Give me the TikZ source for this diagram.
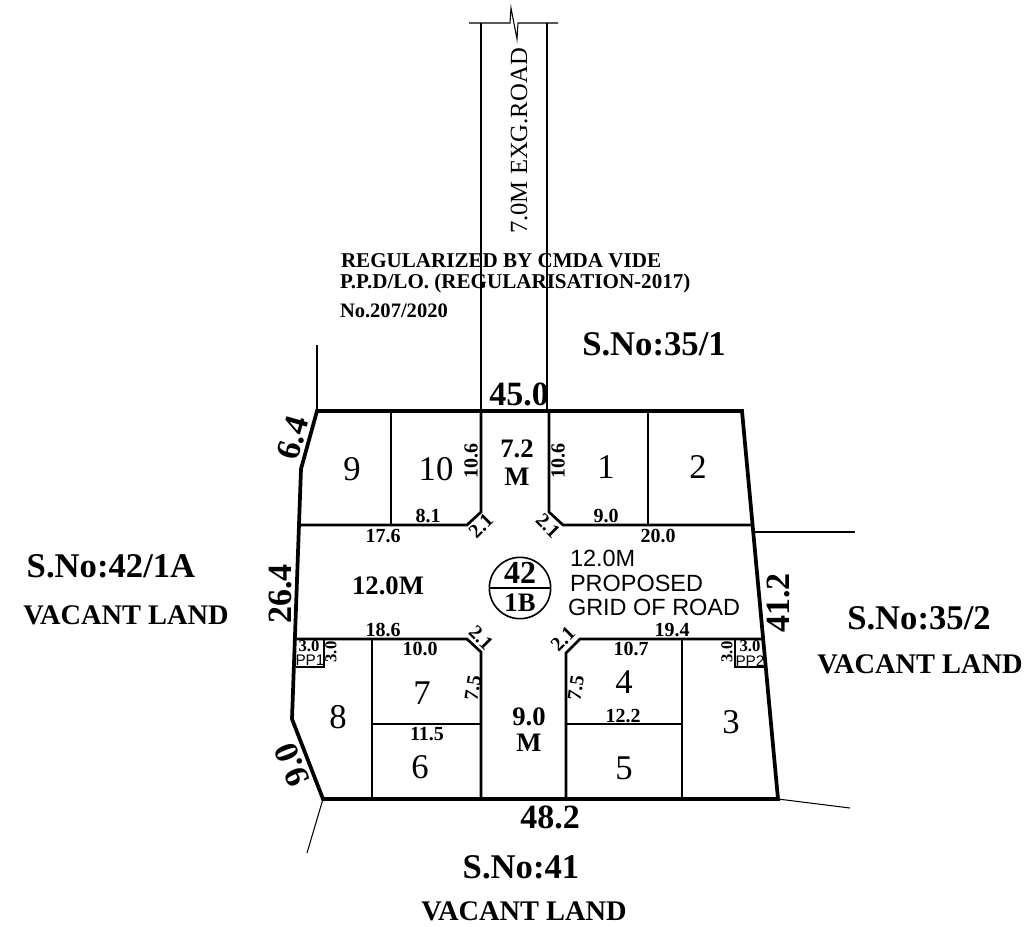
\documentclass[tikz,border=0pt]{standalone}
\usepackage{fontspec}
\setmainfont{Liberation Serif}
\setsansfont{Liberation Sans}
\usetikzlibrary{positioning}

\newcommand{\fs}[1]{\fontsize{#1}{#1}\selectfont}

\begin{document}
\begin{tikzpicture}[x=0.75pt,y=-0.75pt,inner sep=0pt,outer sep=0pt]
            \tikzstyle{boundary}=[line width=2.8pt,line join=miter]
            \tikzstyle{roadline}=[line width=2pt]
            \tikzstyle{plotline}=[line width=1.5pt]
            \tikzstyle{thinline}=[line width=0.8pt]
            \tikzstyle{plot}=[font=\fs{26}]
            \tikzstyle{dim}=[font=\fs{15}\bfseries]
            \tikzstyle{smalldim}=[font=\fs{12.5}\bfseries]
            \tikzstyle{sidedim}=[font=\fs{25.5}\bfseries]
            \tikzstyle{survey}=[font=\fs{26}\bfseries]
            \tikzstyle{vacant}=[font=\fs{21.3}\bfseries]
            \tikzstyle{roadname}=[font=\fs{20}\bfseries]
            \tikzstyle{note}=[font=\fs{15.8}\bfseries,anchor=west]
            \tikzstyle{grid}=[font=\sffamily\fs{17.6},anchor=west]
            \tikzstyle{pp}=[font=\sffamily\fs{11.5}]

            \useasboundingbox (0,0) rectangle (1026,926);

            % site corners
            \coordinate (nw)   at (317,411);
            \coordinate (ne)   at (742,411);
            \coordinate (se)   at (778,799);
            \coordinate (sw)   at (323,799);
            \coordinate (wlow) at (292,719);
            \coordinate (wup)  at (301,469);

            % road edges
            \coordinate (ula) at (481,411);
            \coordinate (ulb) at (481,512);
            \coordinate (ulc) at (467,525);
            \coordinate (uld) at (299,525);
            \coordinate (ura) at (549,411);
            \coordinate (urb) at (549,512);
            \coordinate (urc) at (563,525);
            \coordinate (urd) at (752,525);
            \coordinate (lla) at (296,639);
            \coordinate (llb) at (467,639);
            \coordinate (llc) at (481,652);
            \coordinate (lld) at (481,799);
            \coordinate (lra) at (762,639);
            \coordinate (lrb) at (580,639);
            \coordinate (lrc) at (566,653);
            \coordinate (lrd) at (566,799);

            % plot divisions
            \coordinate (d9t)  at (391,411);
            \coordinate (d9b)  at (391,525);
            \coordinate (d2t)  at (648,411);
            \coordinate (d2b)  at (648,525);
            \coordinate (d8t)  at (372,639);
            \coordinate (d8b)  at (372,799);
            \coordinate (d7l)  at (372,724);
            \coordinate (d7r)  at (481,724);
            \coordinate (d3t)  at (682,639);
            \coordinate (d3b)  at (682,799);
            \coordinate (d4l)  at (566,724);
            \coordinate (d4r)  at (682,724);

            % parks
            \coordinate (ppat) at (324,639);
            \coordinate (ppab) at (324,667);
            \coordinate (ppal) at (296,667);
            \coordinate (ppbt) at (735,639);
            \coordinate (ppbb) at (735,667);
            \coordinate (ppbr) at (765,667);

            % free ends of thin lines
            \coordinate (rdl)  at (481,23);
            \coordinate (rdr)  at (547,23);
            \coordinate (rdlo) at (469,23);
            \coordinate (rdro) at (558,23);
            \coordinate (brka) at (510,23);
            \coordinate (brkb) at (511,8);
            \coordinate (brkc) at (517,39);
            \coordinate (brkd) at (518,23);
            \coordinate (rdrb) at (547,411);
            \coordinate (nwx)  at (317,345);
            \coordinate (ea)   at (755,532);
            \coordinate (eb)   at (855,532);
            \coordinate (sex)  at (850,808);
            \coordinate (swx)  at (307,853);

            \draw[boundary] (nw) -- (ne) -- (se) -- (sw) -- (wlow) -- (wup) -- cycle;

            \draw[roadline] (ula) -- (ulb) -- (ulc) -- (uld);
            \draw[roadline] (ura) -- (urb) -- (urc) -- (urd);
            \draw[roadline] (lla) -- (llb) -- (llc) -- (lld);
            \draw[roadline] (lra) -- (lrb) -- (lrc) -- (lrd);

            \draw[plotline] (d9t) -- (d9b);
            \draw[plotline] (d2t) -- (d2b);
            \draw[plotline] (d8t) -- (d8b);
            \draw[plotline] (d7l) -- (d7r);
            \draw[plotline] (d3t) -- (d3b);
            \draw[plotline] (d4l) -- (d4r);
            \draw[plotline] (ppat) -- (ppab) -- (ppal);
            \draw[plotline] (ppbt) -- (ppbb) -- (ppbr);

            \draw[thinline] (rdlo) -- (brka) -- (brkb) -- (brkc) -- (brkd) -- (rdro);
            \draw[thinline] (rdl) -- (ula);
            \draw[thinline] (rdr) -- (rdrb);
            \draw[thinline] (nw) -- (nwx);
            \draw[thinline] (ea) -- (eb);
            \draw[thinline] (se) -- (sex);
            \draw[thinline] (sw) -- (swx);

            % plot numbers
            \node[plot] (p1)  at (606,467) {1};
            \node[plot] (p2)  at (698,467) {2};
            \node[plot] (p3)  at (731,722) {3};
            \node[plot] (p4)  at (624,682) {4};
            \node[plot] (p5)  at (624,768) {5};
            \node[plot] (p6)  at (420,767) {6};
            \node[plot] (p7)  at (422,693) {7};
            \node[plot] (p8)  at (338,717) {8};
            \node[plot] (p9)  at (352,469) {9};
            \node[plot] (p10) at (436,469) {10};

            % road labels
            \node[roadname] (wa) at (517,449) {7.2};
            \node[roadname] (wb) at (517,477) {M};
            \node[roadname] (wc) at (529,717) {9.0};
            \node[roadname] (wd) at (529,743) {M};
            \node[roadname] (we) at (388,586) {12.0M};
            \node[font=\fs{18.5}] (rd) [rotate=90] at (519,141) {7.0M EXG.ROAD};

            \node[draw,circle,line width=1.2pt,minimum size=46pt] (circ) at (520,588) {};
            \draw[plotline,line width=1pt] (circ.west) -- (circ.east);
            \node[font=\fs{24}\bfseries] (bl) at (520,573) {42};
            \node[font=\fs{20}\bfseries] (bk) at (520,603) {1B};

            \node[grid] (ga) at (570,558) {12.0M};
            \node[grid] (gb) at (570,583) {PROPOSED};
            \node[grid] (gc) at (568,607) {GRID OF ROAD};

            % plot dimensions
            \node[dim] (da) [rotate=90] at (471,461) {10.6};
            \node[dim] (db) [rotate=90] at (558,461) {10.6};
            \node[dim] (dc) at (428,516) {8.1};
            \node[dim] (dd) at (606,516) {9.0};
            \node[dim] (de) at (383,536) {17.6};
            \node[dim] (df) at (658,536) {20.0};
            \node[dim] (dg) at (383,630) {18.6};
            \node[dim] (dh) at (672,630) {19.4};
            \node[dim] (di) at (420,649) {10.0};
            \node[dim] (dj) at (631,649) {10.7};
            \node[dim] (dk) at (427,734) {11.5};
            \node[dim] (dl) at (623,716) {12.2};
            \node[dim] (dm) [rotate=81] at (473,688) {7.5};
            \node[dim] (dn) [rotate=81] at (576,688) {7.5};
            \node[dim] (ca) [rotate=45]  at (481,526) {2.1};
            \node[dim] (cb) [rotate=-45] at (548,526) {2.1};
            \node[dim] (cc) [rotate=-45] at (481,638) {2.1};
            \node[dim] (cd) [rotate=45]  at (563,639) {2.1};

            \node[smalldim] (sa) at (309,646) {3.0};
            \node[smalldim] (sb) [rotate=90] at (331,652) {3.0};
            \node[smalldim] (sc) at (750,646) {3.0};
            \node[smalldim] (sd) [rotate=90] at (727,652) {3.0};
            \node[pp] (ppa) at (310,660) {PP1};
            \node[pp] (ppb) at (750,661) {PP2};

            % site dimensions
            \node[sidedim] (ta) at (519,394) {45.0};
            \node[sidedim] (tb) at (550,817) {48.2};
            \node[sidedim] (tc) [rotate=90] at (280,594) {26.4};
            \node[sidedim] (td) [rotate=90] at (778,603) {41.2};
            \node[sidedim] (te) [rotate=74] at (293,438) {6.4};
            \node[sidedim] (tf) [rotate=112] at (292,765) {9.0};

            % surroundings
            \node[survey] (sna) at (654,344) {S.No:35/1};
            \node[survey] (snb) at (111,566) {S.No:42/1A};
            \node[survey] (snc) at (919,618) {S.No:35/2};
            \node[survey] (snd) at (521,867) {S.No:41};
            \node[vacant] (vw) at (126,615) {VACANT LAND};
            \node[vacant] (ve) at (920,664) {VACANT LAND};
            \node[vacant] (vs) at (524,911) {VACANT LAND};

            \node[note] (na) at (341,261) {REGULARIZED BY CMDA VIDE};
            \node[note] (nb) at (340,283) {P.P.D/LO. (REGULARISATION-2017)};
            \node[note,font=\fs{15.4}\bfseries] (nc) at (340,311) {No.207/2020};
        \end{tikzpicture}
\end{document}
